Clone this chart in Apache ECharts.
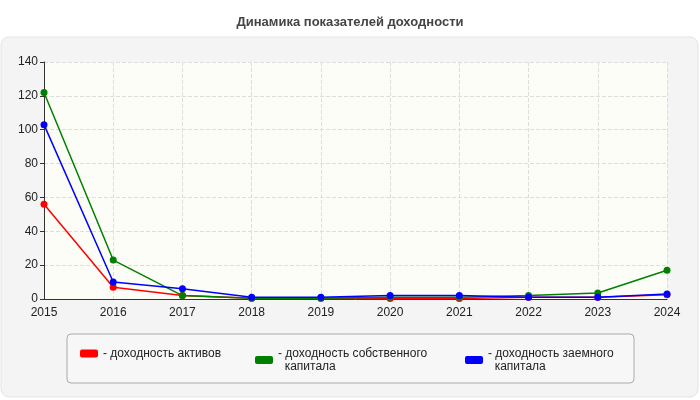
<!DOCTYPE html>
<html>
<head>
<meta charset="utf-8">
<script src="https://cdn.jsdelivr.net/npm/echarts@6/dist/echarts.min.js"></script>
<style>
  html, body { margin: 0; padding: 0; background: #fff; }
  #chart { width: 700px; height: 400px; }
</style>
</head>
<body>
<div id="chart"></div>
<script>
const years = ['2015', '2016', '2017', '2018', '2019', '2020', '2021', '2022', '2023', '2024'];
const assetsReturn = [56, 7, 2, 0.5, 0.5, 0.3, 0.3, 1, 1, 2.5];
const equityReturn = [122, 23, 2, 0.5, 0.5, 1, 1, 2, 3.5, 17];
const debtReturn = [103, 10, 6, 1, 1, 2, 2, 1, 1, 3];
const seriesNames = ['доходность активов', 'доходность собственного\nкапитала', 'доходность заемного\nкапитала'];
const yTicks = { min: 0, max: 140, interval: 20 };

const chart = echarts.init(document.getElementById('chart'), null, { renderer: 'canvas' });

const font = 'Liberation Sans, Arial, sans-serif';

const line = (name, data, color) => ({
  name,
  type: 'line',
  data,
  symbol: 'circle',
  symbolSize: 7,
  lineStyle: { color, width: 1.5 },
  itemStyle: { color },
});

const legendAt = (left, name) => ({
  left, top: 342, itemWidth: 18, itemHeight: 8,
  icon: 'roundRect',
  formatter: (n) => '- ' + n.replace('\n', '\n  '),
  textStyle: { fontFamily: font, fontSize: 12, color: '#222', lineHeight: 13 },
  data: [name],
});

chart.setOption({
  backgroundColor: '#ffffff',
  animation: false,
  title: {
    text: 'Динамика показателей доходности',
    left: 'center',
    top: 11,
    textStyle: { fontFamily: font, fontSize: 13, fontWeight: 'bold', color: '#444' },
  },
  graphic: [
    {
      type: 'rect', z: -10,
      shape: { x: 1, y: 37, width: 697, height: 360, r: 8 },
      style: { fill: '#f4f4f4', stroke: '#e4e4e4' },
    },
    {
      type: 'rect', z: -5,
      shape: { x: 67, y: 334, width: 567, height: 49, r: 4 },
      style: { fill: '#f7f7f7', stroke: '#aaa' },
    },
  ],
  grid: {
    left: 44, right: 33, top: 62, bottom: 101,
    show: true, backgroundColor: '#fcfdf7', borderWidth: 0,
  },
  legend: [
    legendAt(75, seriesNames[0]),
    legendAt(250, seriesNames[1]),
    legendAt(460, seriesNames[2]),
  ],
  xAxis: {
    type: 'category',
    data: years,
    boundaryGap: false,
    axisLine: { lineStyle: { color: '#333' } },
    axisTick: { show: false },
    axisLabel: { color: '#222', fontFamily: font, fontSize: 12, margin: 8 },
    splitLine: { show: true, lineStyle: { color: '#ddd', type: 'dashed' } },
  },
  yAxis: {
    type: 'value',
    min: yTicks.min, max: yTicks.max, interval: yTicks.interval,
    axisLine: { show: true, lineStyle: { color: '#333' } },
    axisTick: { show: true, length: 4 },
    axisLabel: { color: '#222', fontFamily: font, fontSize: 12, margin: 6 },
    splitLine: { lineStyle: { color: '#ddd', type: 'dashed' } },
  },
  series: [
    line(seriesNames[0], assetsReturn, '#ff0000'),
    line(seriesNames[1], equityReturn, '#008000'),
    line(seriesNames[2], debtReturn, '#0000ff'),
  ],
});
</script>
</body>
</html>
